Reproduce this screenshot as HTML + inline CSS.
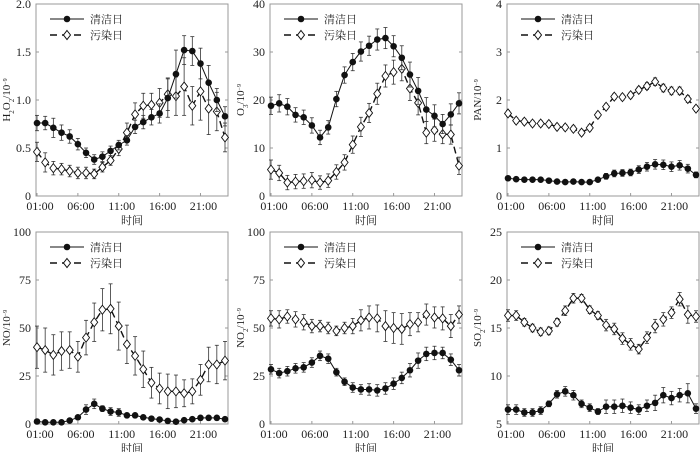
<!DOCTYPE html>
<html><head><meta charset="utf-8"><style>
body{margin:0;background:#fff;width:700px;height:452px;overflow:hidden}
svg{display:block}
svg text{font-family:"Liberation Serif","Noto Serif CJK SC",serif}
</style></head><body>
<svg id="c" width="700" height="452"></svg>
<script>
const hours=[1,2,3,4,5,6,7,8,9,10,11,12,13,14,15,16,17,18,19,20,21,22,23,24];
const xTicks=["01:00","06:00","11:00","16:00","21:00"];
const h2o2Clean=[0.76,0.76,0.71,0.66,0.62,0.54,0.45,0.38,0.41,0.47,0.53,0.58,0.72,0.77,0.82,0.86,1.02,1.27,1.52,1.51,1.38,1.18,1.00,0.83];
const h2o2CleanErr=[0.08,0.07,0.1,0.08,0.07,0.06,0.05,0.05,0.05,0.05,0.05,0.05,0.07,0.07,0.08,0.1,0.2,0.25,0.15,0.15,0.16,0.18,0.12,0.1];
const h2o2Poll=[0.46,0.35,0.29,0.28,0.26,0.24,0.24,0.23,0.30,0.37,0.49,0.66,0.85,0.94,0.95,0.97,1.06,1.04,1.14,0.94,1.09,0.91,0.88,0.61];
const h2o2PollErr=[0.1,0.1,0.07,0.06,0.06,0.06,0.06,0.05,0.05,0.05,0.07,0.1,0.12,0.13,0.12,0.15,0.17,0.2,0.3,0.2,0.3,0.27,0.2,0.15];
const o3Clean=[18.8,19.3,18.6,16.9,16.4,14.7,12.2,14.3,20.2,25.2,27.9,30.1,31.3,32.6,32.9,31.2,28.8,25.3,21.9,18,16.7,15,17,19.3];
const o3CleanErr=[1.8,1.8,1.7,1.5,1.5,1.6,1.5,1.4,1.6,1.7,1.8,2,2,2.2,2.2,2.2,2.5,2.6,2.8,2.5,2.3,2,2.2,2.2];
const o3Poll=[5.5,4.8,2.8,3,3.1,3.3,2.8,3.2,5,7,10.7,14.4,17.3,21.3,25,25.8,26.5,22.4,19.4,13.2,13.7,12.9,12.8,6.3];
const o3PollErr=[2,1.6,1.5,1.5,1.5,1.6,1.4,1.4,1.5,1.6,1.8,2,2,2.2,2.3,2.5,2.5,2.5,2.5,2.3,2.3,2,2,1.8];
const panClean=[0.37,0.35,0.34,0.34,0.34,0.32,0.3,0.29,0.3,0.29,0.29,0.34,0.41,0.47,0.48,0.49,0.55,0.61,0.66,0.65,0.61,0.64,0.57,0.44];
const panCleanErr=[0.03,0.03,0.03,0.03,0.03,0.03,0.03,0.03,0.03,0.03,0.03,0.04,0.06,0.07,0.07,0.07,0.08,0.09,0.1,0.1,0.1,0.1,0.09,0.06];
const panPoll=[1.72,1.57,1.55,1.51,1.51,1.5,1.44,1.43,1.4,1.32,1.42,1.69,1.86,2.07,2.06,2.1,2.21,2.29,2.38,2.25,2.19,2.19,2.02,1.82];
const panPollErr=[0.06,0.06,0.06,0.06,0.06,0.06,0.06,0.06,0.06,0.06,0.06,0.06,0.06,0.06,0.06,0.06,0.06,0.07,0.08,0.08,0.08,0.08,0.07,0.06];
const noClean=[1.3,0.9,0.9,0.9,1.8,3.5,7.5,10.5,8,6.5,6,4.5,4.5,3.5,2.8,2.3,1.6,1.2,2,2.5,3.2,3.2,3.2,2.5];
const noCleanErr=[0.5,0.5,0.5,0.5,0.6,1,2.5,2.5,1.5,2,2,1,1,1,0.8,0.8,0.6,0.5,0.6,0.7,0.8,0.8,0.8,0.7];
const noPoll=[40,38.5,36,38,38.5,35,45,53,59.5,60,51,41.5,35.5,28.5,21.5,18.5,17,17,16,17,23,31,31,33];
const noPollErr=[11,11.5,10.5,10,9.5,8,9,10,11,13,12.5,10,10,9.5,8,8,9,8.5,7,6.5,8,9,10,10];
const no2Clean=[28.5,26.5,27.5,29,29.5,32,35.5,34,27,22,19,18,18,17.5,18.5,21,24,28,33,36.5,37,37,33.5,28];
const no2CleanErr=[2.5,2.5,2.5,2.5,2.5,2.5,2.5,2.5,2,2,2.5,2.5,3,3,3,3,3,3.5,4,3.5,3.5,3,3,3];
const no2Poll=[55,54.5,56,54.5,53,51,51,50,48.5,50,51,54,55.5,55,51,50,49.5,52,53,57,55.5,55,51,57];
const no2PollErr=[4,4.5,3.5,4,4,3.5,3,3,2.5,3,4,5.5,6,7,8,8,8,6,5,5.5,5.5,6,6,4.5];
const so2Clean=[6.5,6.5,6.2,6.2,6.4,7.1,8.1,8.4,8,7.1,6.7,6.3,6.8,6.8,6.9,6.7,6.5,6.9,7.2,8,7.7,8,8.2,6.6];
const so2CleanErr=[0.5,0.5,0.4,0.4,0.4,0.3,0.4,0.5,0.5,0.4,0.4,0.3,0.7,0.7,0.7,0.6,0.5,0.6,0.8,0.8,0.7,0.7,1,0.5];
const so2Poll=[16.3,16.3,15.6,15,14.6,14.7,15.6,16.8,18.1,18.1,16.9,16.3,15.3,14.9,13.9,13.3,12.8,14,15.2,15.9,16.6,18,16.4,16.2];
const so2PollErr=[0.6,0.5,0.4,0.4,0.4,0.4,0.4,0.5,0.5,0.4,0.4,0.4,0.6,0.6,0.6,0.6,0.5,0.6,0.7,0.7,0.6,0.7,0.9,0.6];

const panels=[
 {name:"h2o2",x0:36,y0:4,min:0,max:2,ticks:["0","0.5","1.0","1.5","2.0"],tv:[0,0.5,1,1.5,2],label:"H<tspan baseline-shift='sub' font-size='7'>2</tspan>O<tspan baseline-shift='sub' font-size='7'>2</tspan>/10<tspan baseline-shift='super' font-size='6'>−9</tspan>",c:h2o2Clean,ce:h2o2CleanErr,p:h2o2Poll,pe:h2o2PollErr},
 {name:"o3",x0:270,y0:4,min:0,max:40,ticks:["0","10","20","30","40"],tv:[0,10,20,30,40],label:"O<tspan baseline-shift='sub' font-size='7'>3</tspan>/10<tspan baseline-shift='super' font-size='6'>−9</tspan>",c:o3Clean,ce:o3CleanErr,p:o3Poll,pe:o3PollErr},
 {name:"pan",x0:507,y0:4,min:0,max:4,ticks:["0","1","2","3","4"],tv:[0,1,2,3,4],label:"PAN/10<tspan baseline-shift='super' font-size='6'>−9</tspan>",c:panClean,ce:panCleanErr,p:panPoll,pe:panPollErr},
 {name:"no",x0:36,y0:232,min:0,max:100,ticks:["0","25","50","75","100"],tv:[0,25,50,75,100],label:"NO/10<tspan baseline-shift='super' font-size='6'>−9</tspan>",c:noClean,ce:noCleanErr,p:noPoll,pe:noPollErr},
 {name:"no2",x0:270,y0:232,min:0,max:100,ticks:["0","25","50","75","100"],tv:[0,25,50,75,100],label:"NO<tspan baseline-shift='sub' font-size='7'>2</tspan>/10<tspan baseline-shift='super' font-size='6'>−9</tspan>",c:no2Clean,ce:no2CleanErr,p:no2Poll,pe:no2PollErr},
 {name:"so2",x0:507,y0:232,min:5,max:25,ticks:["5","10","15","20","25"],tv:[5,10,15,20,25],label:"SO<tspan baseline-shift='sub' font-size='7'>2</tspan>/10<tspan baseline-shift='super' font-size='6'>−9</tspan>",c:so2Clean,ce:so2CleanErr,p:so2Poll,pe:so2PollErr}
];
const W=192,H=192,NS="http://www.w3.org/2000/svg",svg=document.getElementById('c');
const FF='"Liberation Serif","Noto Serif CJK SC",serif';
function el(t,a,parent){const e=document.createElementNS(NS,t);for(const k in a)e.setAttribute(k,a[k]);if(t==='text')e.setAttribute('font-family',FF);(parent||svg).appendChild(e);return e;}
panels.forEach(P=>{
 const g=el('g',{});
 
 
 const X=h=>P.x0+1+(h-1)*(W-4)/23;
 const Y=v=>P.y0+H-(v-P.min)/(P.max-P.min)*H;
 const fr=el('rect',{x:P.x0,y:P.y0,width:W,height:H,fill:'none',stroke:'#999','stroke-width':1},g);
 
 
 P.tv.forEach((v,i)=>{
  el('line',{x1:P.x0,x2:P.x0+3,y1:Y(v),y2:Y(v),stroke:'#999'},g);
  el('line',{x1:P.x0+W,x2:P.x0+W-3,y1:Y(v),y2:Y(v),stroke:'#999'},g);
  const t=el('text',{x:P.x0-5,y:Y(v)+4,'text-anchor':'end','font-size':12,fill:'#222'},g);t.textContent=P.ticks[i];
  
  
 });
 xTicks.forEach((s,i)=>{
  const x=X(1+5*i);
  el('line',{x1:x,x2:x,y1:P.y0+H,y2:P.y0+H-3,stroke:'#999'},g);
  const t=el('text',{x:x+3,y:P.y0+H+14,'text-anchor':'middle','font-size':12,fill:'#222'},g);t.textContent=s;
  
  
 });
 const xl=el('text',{x:P.x0+W/2,y:P.y0+H+28,'text-anchor':'middle','font-size':11,fill:'#222'},g);xl.textContent='时间';
 
 
 const yl=el('text',{transform:`translate(${P.x0-26},${P.y0+H/2}) rotate(-90)`,'text-anchor':'middle','font-size':11,fill:'#222'},g);yl.innerHTML=P.label;
 
 
 [[P.p,P.pe,'poll'],[P.c,P.ce,'clean']].forEach(([d,e,k])=>{
  const sg=el('g',{},g);
  
  
  d.forEach((v,i)=>{const x=X(hours[i]);const a=Y(v+e[i]),b=Y(v-e[i]);
   el('line',{x1:x,x2:x,y1:a,y2:b,stroke:'#333','stroke-width':0.8},sg);
   el('line',{x1:x-2,x2:x+2,y1:a,y2:a,stroke:'#333','stroke-width':0.8},sg);
   el('line',{x1:x-2,x2:x+2,y1:b,y2:b,stroke:'#333','stroke-width':0.8},sg);});
  el('polyline',{points:d.map((v,i)=>X(hours[i])+','+Y(v)).join(' '),fill:'none',stroke:'#111','stroke-width':k==='clean'?1:1.4,'stroke-dasharray':k==='clean'?'none':'7,4'},sg);
  d.forEach((v,i)=>{const x=X(hours[i]),y=Y(v);
   if(k==='clean')el('circle',{cx:x,cy:y,r:3.3,fill:'#111'},sg);
   else el('polygon',{points:`${x},${y-4.5} ${x+3.5},${y} ${x},${y+4.5} ${x-3.5},${y}`,fill:'#fff',stroke:'#111','stroke-width':0.9},sg);});
 });
 const lg=el('g',{},g);
 
 
 const lx=P.x0+14,l1=P.y0+15,l2=P.y0+31;
 el('line',{x1:lx,x2:lx+34,y1:l1,y2:l1,stroke:'#111'},lg);
 el('circle',{cx:lx+17,cy:l1,r:3.3,fill:'#111'},lg);
 const t1=el('text',{x:lx+40,y:l1+4,'font-size':11,fill:'#222'},lg);t1.textContent='清洁日';
 el('line',{x1:lx,x2:lx+34,y1:l2,y2:l2,stroke:'#111','stroke-width':1.4,'stroke-dasharray':'7,5'},lg);
 el('polygon',{points:`${lx+17},${l2-4.5} ${lx+20.5},${l2} ${lx+17},${l2+4.5} ${lx+13.5},${l2}`,fill:'#fff',stroke:'#111'},lg);
 const t2=el('text',{x:lx+40,y:l2+4,'font-size':11,fill:'#222'},lg);t2.textContent='污染日';
});
</script>
</body></html>
